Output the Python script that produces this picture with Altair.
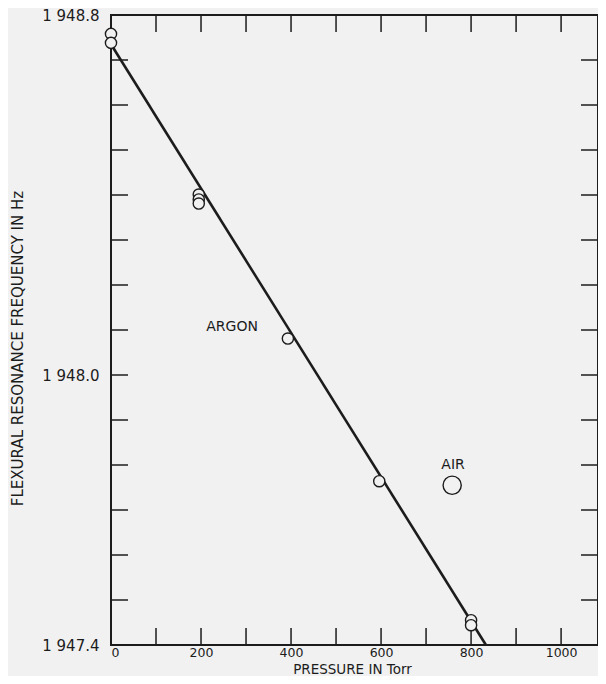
import altair as alt
import pandas as pd

# ---- data ----
argon_p = [0, 0, 195, 195, 195, 393, 596, 800, 800]
argon_f = [1948.758, 1948.738, 1948.401, 1948.390, 1948.381, 1948.081, 1947.764, 1947.455, 1947.444]
air_p = [758]
air_f = [1947.755]
fit_p = [0, 833]
fit_f = [1948.735, 1947.400]
label_text = ["ARGON", "AIR"]
label_p = [269, 760]
label_f = [1948.107, 1947.800]
x_tick_vals = [100, 200, 300, 400, 500, 600, 700, 800, 900, 1000]
x_label_vals = [0, 200, 400, 600, 800, 1000]
y_tick_vals = [1947.5, 1947.6, 1947.7, 1947.8, 1947.9, 1948.0, 1948.1,
               1948.2, 1948.3, 1948.4, 1948.5, 1948.6, 1948.7]
y_label_vals = [1947.4, 1948.0, 1948.8]

W, H = 487, 630
TICK = 17
BG = "#f1f1f1"
INK = "#1c1c1c"
FONT = "DejaVu Sans"
X_TITLE = "PRESSURE IN Torr"
Y_TITLE = "FLEXURAL RESONANCE FREQUENCY IN Hz"

xs = alt.Scale(domain=[0, 1082], nice=False, zero=False)
ys = alt.Scale(domain=[1947.4, 1948.8], nice=False, zero=False)

x_axis = alt.Axis(values=x_label_vals, format="d", ticks=False, domain=False, grid=False,
                  labelPadding=1, labelFontSize=12.5, labelFont=FONT, labelColor=INK,
                  titleFont=FONT, titleFontSize=13.5, titleFontWeight="normal", titleColor=INK,
                  titleX=241, titleY=24, titleBaseline="middle", titleAlign="center")
y_axis = alt.Axis(values=y_label_vals, ticks=False, domain=False, grid=False,
                  labelExpr="'1 ' + slice(format(datum.value, '.1f'), 1)",
                  labelPadding=12, labelFontSize=15, labelFont=FONT, labelColor=INK,
                  titleFont=FONT, titleFontSize=15, titleFontWeight="normal", titleColor=INK,
                  titleX=-94, titleY=333, titleAngle=270,
                  titleBaseline="middle", titleAlign="center")


def X():
    return alt.X("p:Q", scale=xs, axis=x_axis, title=X_TITLE)


def Y():
    return alt.Y("f:Q", scale=ys, axis=y_axis, title=Y_TITLE)


argon = pd.DataFrame({"p": argon_p, "f": argon_f})
air = pd.DataFrame({"p": air_p, "f": air_f})
fit = pd.DataFrame({"p": fit_p, "f": fit_f})
labels = pd.DataFrame({"t": label_text, "p": label_p, "f": label_f})
xt = pd.DataFrame({"p": x_tick_vals})
yt = pd.DataFrame({"f": y_tick_vals})

line = alt.Chart(fit).mark_line(color=INK, strokeWidth=2.6).encode(x=X(), y=Y())

top_ticks = alt.Chart(xt).mark_rule(color=INK, strokeWidth=1.5).encode(
    x=X(), y=alt.value(0), y2=alt.value(TICK))
bot_ticks = alt.Chart(xt).mark_rule(color=INK, strokeWidth=1.5).encode(
    x=X(), y=alt.value(H), y2=alt.value(H - TICK))
left_ticks = alt.Chart(yt).mark_rule(color=INK, strokeWidth=1.5).encode(
    y=Y(), x=alt.value(0), x2=alt.value(TICK))
right_ticks = alt.Chart(yt).mark_rule(color=INK, strokeWidth=1.5).encode(
    y=Y(), x=alt.value(W), x2=alt.value(W - TICK))

pts = alt.Chart(argon).mark_point(shape="circle", filled=False, fill=BG, fillOpacity=1,
                                  stroke=INK, strokeWidth=1.4, size=125, opacity=1).encode(
    x=X(), y=Y())

air_pt = alt.Chart(air).mark_point(shape="circle", filled=False, fill=BG, fillOpacity=1,
                                   stroke=INK, strokeWidth=1.4, size=330, opacity=1).encode(
    x=X(), y=Y())

txt = alt.Chart(labels).mark_text(font=FONT, fontSize=14, color=INK, align="center",
                                  baseline="middle").encode(x=X(), y=Y(), text="t:N")

chart = alt.layer(line, top_ticks, bot_ticks, left_ticks, right_ticks, pts, air_pt, txt).properties(
    width=W, height=H,
    autosize=alt.AutoSizeParams(type="none"),
    padding={"left": 103, "top": 7, "right": 0, "bottom": 31},
    background=BG,
).configure_view(stroke=INK, strokeWidth=2)

chart.save("out.html", embed_options={"renderer": "svg", "actions": False})
